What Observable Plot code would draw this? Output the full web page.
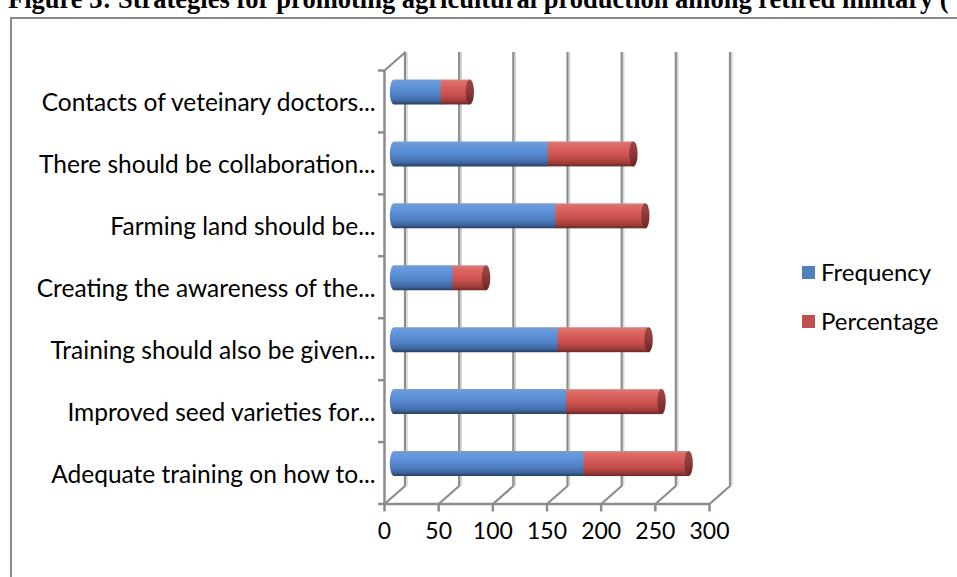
<!DOCTYPE html>
<html>
<head>
<meta charset="utf-8">
<script src="https://cdn.jsdelivr.net/npm/d3@7"></script>
<script src="https://cdn.jsdelivr.net/npm/@observablehq/plot@0.6"></script>
<style>
  html, body { margin: 0; padding: 0; background: #fff; overflow: hidden; }
  #wrap { position: relative; width: 957px; height: 577px; overflow: hidden; }
  #title { position: absolute; left: 8px; top: -16px; font: bold 26.5px/30px "Liberation Serif", "Times New Roman", serif; white-space: nowrap; color: #000; }
  #frame { position: absolute; left: 10px; top: 17px; width: 970px; height: 600px; border-left: 2.5px solid #8a8a8a; border-top: 2.5px solid #8a8a8a; }
  #chart { position: absolute; left: 0; top: 0; }
  #legend { position: absolute; left: 802px; top: 257px; font: 24px/30px Lato, sans-serif; color: #000; }
  #legend .row { display: flex; align-items: center; height: 30px; margin-bottom: 19px; }
  #legend .sw { width: 13px; height: 13px; margin-right: 6px; }
</style>
</head>
<body>
<div id="wrap">
  <div id="frame"></div>
  <div id="title">Figure 3: Strategies for promoting agricultural production among retired military (</div>
  <div id="chart"></div>
  <div id="legend"></div>
</div>
<script>
// Strategies, listed from the bottom of the chart to the top
const categories = [
  "Adequate training on how to...",
  "Improved seed varieties for...",
  "Training should also be given...",
  "Creating the awareness of the...",
  "Farming land should be...",
  "There should be collaboration...",
  "Contacts of veteinary doctors..."
];
const series = ["Frequency", "Percentage"];
const frequency = [175, 159, 151, 54, 149, 142, 43];
const percentage = [97, 88, 84, 31, 83, 79, 27];
const xTicks = [0, 50, 100, 150, 200, 250, 300];
const seriesColors = ["#4f81bd", "#c0504d"];

// One row per strategy, with the stacked extents of both series
const rows = categories.map((name, i) => ({
  name,
  pos: i + 0.5,
  freq: frequency[i],
  total: frequency[i] + percentage[i]
}));
const bands = d3.range(0, categories.length + 1);

// Pseudo-3D depth: back wall offset and the mid plane where the cylinders sit
const back = {dx: 20.5, dy: -18};
const mid = {dx: 10, dy: -9};
const grid = "#8c8c8c";
const depthLength = Math.hypot(back.dx, back.dy);
const depthAngle = Math.atan2(back.dx, -back.dy) * 180 / Math.PI;
const depthLine = {draw(context, l) { context.moveTo(0, 0); context.lineTo(0, -l); }};

const barHalf = 12.5;
const capHalf = 4.2;

const plot = Plot.plot({
  width: 957,
  height: 577,
  marginLeft: 384,
  marginRight: 248,
  marginTop: 70,
  marginBottom: 73.5,
  style: {fontFamily: "Lato, sans-serif", fontSize: "24.5px", background: "transparent", overflow: "visible"},
  x: {domain: [0, 300], axis: null},
  y: {domain: [0, categories.length], axis: null},
  marks: [
    // back wall gridlines with their light edge
    Plot.ruleX(xTicks, {x: d => d, y1: 0, y2: categories.length, dx: back.dx + 2, dy: back.dy, stroke: "#d6d6d6", strokeWidth: 1.6}),
    Plot.ruleX(xTicks, {x: d => d, y1: 0, y2: categories.length, dx: back.dx, dy: back.dy, stroke: grid, strokeWidth: 2.2}),
    // floor lines running back from each tick, and the top edge of the side wall
    Plot.vector(xTicks, {x: d => d, y: 0, length: depthLength, rotate: depthAngle, anchor: "start", shape: depthLine, fill: "none", stroke: grid, strokeWidth: 2.2}),
    Plot.vector([categories.length], {x: 0, y: d => d, length: depthLength, rotate: depthAngle, anchor: "start", shape: depthLine, fill: "none", stroke: grid, strokeWidth: 2.2}),
    // cylinders: frequency body, percentage body, end cap
    Plot.rect(rows, {x1: 0, x2: "freq", y1: "pos", y2: "pos", insetTop: -barHalf, insetBottom: -barHalf, insetLeft: -capHalf, insetRight: -capHalf, rx: capHalf, ry: barHalf, dx: mid.dx, dy: mid.dy, fill: "url(#cylFreq)"}),
    Plot.rect(rows, {x1: "freq", x2: "total", y1: "pos", y2: "pos", insetTop: -barHalf, insetBottom: -barHalf, dx: mid.dx, dy: mid.dy, fill: "url(#cylPct)"}),
    Plot.rect(rows, {x1: "total", x2: "total", y1: "pos", y2: "pos", insetTop: -barHalf, insetBottom: -barHalf, insetLeft: -capHalf, insetRight: -capHalf, rx: capHalf, ry: barHalf, dx: mid.dx, dy: mid.dy, fill: "url(#capPct)"}),
    // front axis lines
    Plot.ruleY([0], {stroke: grid, strokeWidth: 2.5}),
    Plot.ruleX([0], {stroke: grid, strokeWidth: 2.5}),
    // value axis
    Plot.axisX({ticks: xTicks, tickSize: 8, tickPadding: 11, stroke: grid, strokeWidth: 2.5, fill: "#000", fontSize: 23, label: null}),
    // category separators and names
    Plot.axisY({ticks: bands, tickSize: 6, tickFormat: () => "", stroke: grid, strokeWidth: 2.5, label: null}),
    Plot.axisY({ticks: rows.map(d => d.pos), tickSize: 0, tickPadding: 9, tickFormat: d => categories[Math.floor(d)], fill: "#000", dy: 2, label: null})
  ]
});

// cylinder shading
const defs = d3.select(plot).insert("defs", ":first-child");
function gradient(id, stops) {
  const g = defs.append("linearGradient").attr("id", id).attr("x1", 0).attr("y1", 0).attr("x2", 0).attr("y2", 1);
  stops.forEach(([o, c]) => g.append("stop").attr("offset", o).attr("stop-color", c));
}
gradient("cylFreq", [[0, "#7d9fcc"], [0.08, "#6b9ad9"], [0.3, "#5f92da"], [0.6, "#5282c6"], [0.85, "#3f68a3"], [1, "#273f62"]]);
gradient("cylPct", [[0, "#d48e8c"], [0.08, "#dd6f6b"], [0.3, "#d9605c"], [0.6, "#c9504d"], [0.85, "#a13e3c"], [1, "#6d2826"]]);
gradient("capPct", [[0, "#9a4846"], [0.5, "#8c3937"], [1, "#6a2624"]]);

document.getElementById("chart").appendChild(plot);

// legend
const legend = d3.select("#legend");
series.forEach((s, i) => {
  const row = legend.append("div").attr("class", "row");
  row.append("div").attr("class", "sw").style("background", seriesColors[i]);
  row.append("span").text(s);
});
</script>
</body>
</html>
